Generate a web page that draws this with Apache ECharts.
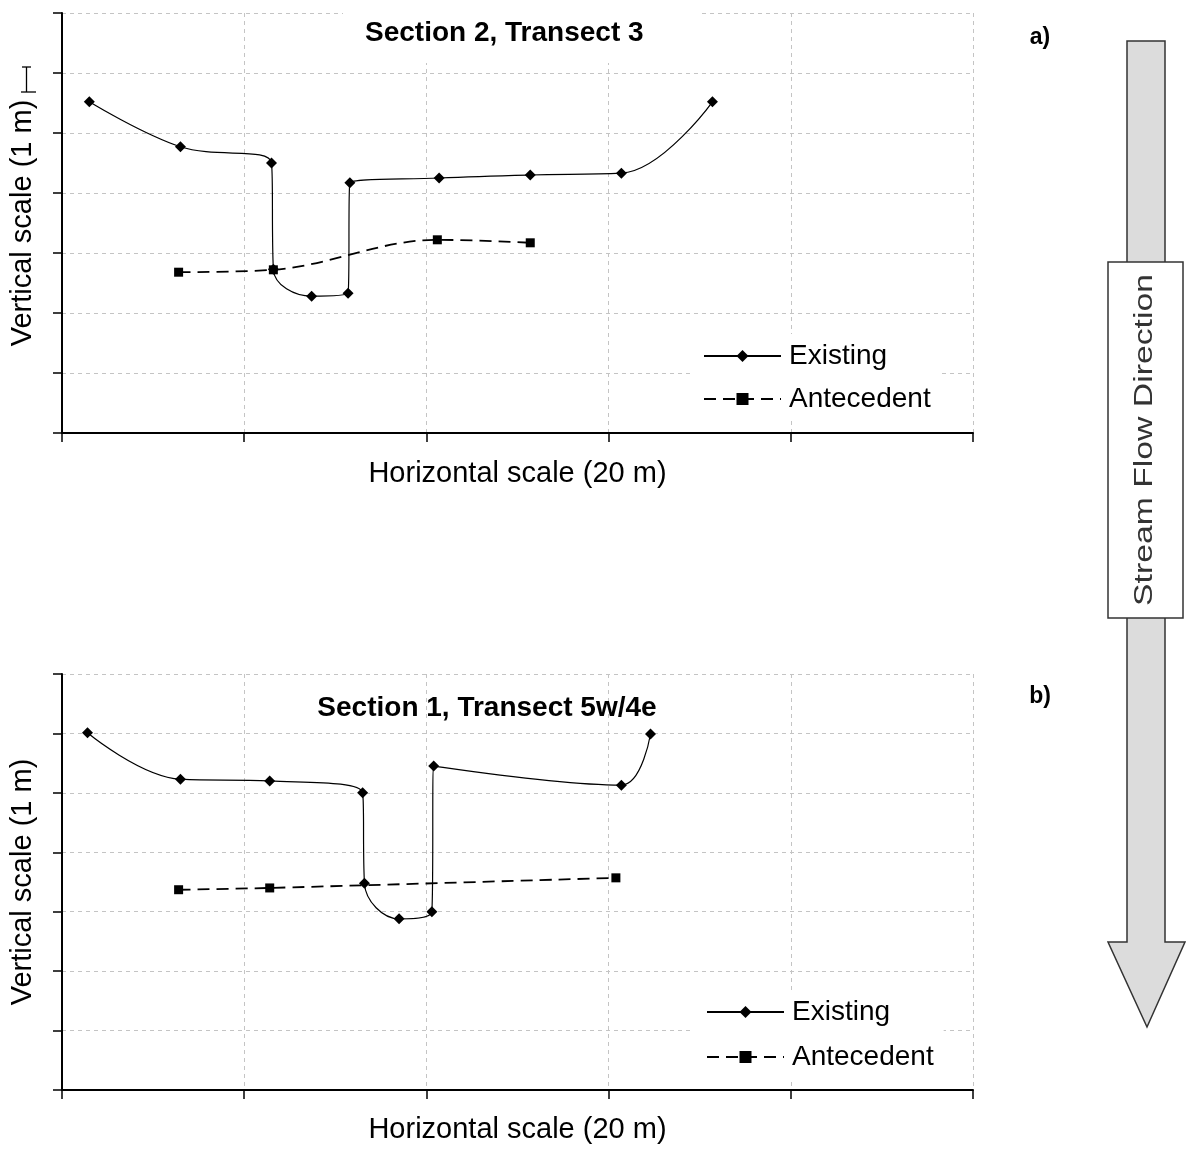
<!DOCTYPE html>
<html>
<head>
<meta charset="utf-8">
<script src="https://cdn.jsdelivr.net/npm/echarts@6/dist/echarts.min.js"></script>
<style>html,body{margin:0;padding:0;background:#fff;}#c{width:1193px;height:1149px;}</style>
</head>
<body>
<div id="c"></div>
<script>
// Panel a) Section 2, Transect 3
const aExistX = [0.15, 0.65, 1.15, 1.16, 1.37, 1.57, 1.58, 2.07, 2.57, 3.07, 3.57];
const aExistY = [5.52, 4.77, 4.50, 2.73, 2.28, 2.33, 4.17, 4.25, 4.30, 4.33, 5.52];
const aAnteX = [0.64, 1.16, 2.06, 2.57];
const aAnteY = [2.68, 2.72, 3.22, 3.17];
// Panel b) Section 1, Transect 5w/4e
const bExistX = [0.14, 0.65, 1.14, 1.65, 1.66, 1.85, 2.03, 2.04, 3.07, 3.23];
const bExistY = [6.01, 5.23, 5.20, 5.00, 3.48, 2.88, 3.00, 5.45, 5.13, 5.99];
const bAnteX = [0.64, 1.14, 3.04];
const bAnteY = [3.37, 3.40, 3.57];

const seriesNames = ['Existing', 'Antecedent'];
const titles = ['Section 2, Transect 3', 'Section 1, Transect 5w/4e'];
const panelLabels = ['a)', 'b)'];
const xName = 'Horizontal scale (20 m)';
const yName = 'Vertical scale (1 m)';
const arrowText = 'Stream Flow Direction';

const FONT = '"Liberation Sans", Arial, sans-serif';
const zip = (xs, ys) => xs.map((x, i) => [x, ys[i]]);

const chart = echarts.init(document.getElementById('c'), null, {renderer: 'canvas'});

function xAxisFor(gi, gap) {
  return {
    gridIndex: gi, type: 'value', min: 0, max: 5, interval: 1,
    name: xName, nameLocation: 'middle', nameGap: gap,
    nameTextStyle: {fontFamily: FONT, fontSize: 29, color: '#000'},
    axisLine: {show: true, onZero: false, lineStyle: {color: '#000', width: 2}},
    axisTick: {show: true, length: 9, lineStyle: {color: '#000', width: 1.5}},
    axisLabel: {show: false},
    splitLine: {show: true, showMinLine: true, showMaxLine: true, lineStyle: {color: '#c4c4c4', type: [4, 4], width: 1}}
  };
}
function yAxisFor(gi) {
  return {
    gridIndex: gi, type: 'value', min: 0, max: 7, interval: 1,
    name: yName, nameLocation: 'middle', nameGap: 25, nameRotate: 90,
    nameTextStyle: {fontFamily: FONT, fontSize: 29, color: '#000'},
    axisLine: {show: true, onZero: false, lineStyle: {color: '#000', width: 2}},
    axisTick: {show: true, length: 9, lineStyle: {color: '#000', width: 1.5}},
    axisLabel: {show: false},
    splitLine: {show: true, showMinLine: true, showMaxLine: true, lineStyle: {color: '#c4c4c4', type: [4, 4], width: 1}}
  };
}
function existSeries(idx, data) {
  return {
    name: seriesNames[0], type: 'line', xAxisIndex: idx, yAxisIndex: idx,
    data: data, smooth: 0.4, symbol: 'diamond', symbolSize: 11,
    itemStyle: {color: '#000'}, lineStyle: {color: '#000', width: 1.2, type: 'solid'},
    emphasis: {disabled: true}, animation: false, z: 3
  };
}
function anteSeries(idx, data) {
  return {
    name: seriesNames[1], type: 'line', xAxisIndex: idx, yAxisIndex: idx,
    data: data, smooth: 0.35, symbol: 'rect', symbolSize: 9,
    itemStyle: {color: '#000'}, lineStyle: {color: '#000', width: 1.8, type: [12, 7]},
    emphasis: {disabled: true}, animation: false, z: 3
  };
}
function legendFor(left, top, gap) {
  return {
    orient: 'vertical', left: left, top: top, itemGap: gap,
    itemWidth: 77, itemHeight: 15,
    padding: [8, 10, 8, 13], backgroundColor: '#fff',
    data: seriesNames, selectedMode: false,
    textStyle: {fontFamily: FONT, fontSize: 28, color: '#000', padding: [0, 0, 0, 3]}
  };
}

const option = {
  backgroundColor: '#fff',
  animation: false,
  title: [
    {text: titles[0], left: 343, top: 0, padding: [19, 55, 16, 22], backgroundColor: '#fff',
     textStyle: {fontFamily: FONT, fontSize: 28, fontWeight: 'bold', color: '#000'}},
    {text: titles[1], left: 487, textAlign: 'center', top: 694, padding: 0,
     textStyle: {fontFamily: FONT, fontSize: 28, fontWeight: 'bold', color: '#000'}}
  ],
  legend: [legendFor(690, 334, 15), legendFor(693, 990, 17)],
  grid: [
    {left: 61, top: 13, width: 912, height: 420, containLabel: false},
    {left: 61, top: 674, width: 912, height: 416, containLabel: false}
  ],
  xAxis: [xAxisFor(0, 26), xAxisFor(1, 25)],
  yAxis: [yAxisFor(0), yAxisFor(1)],
  series: [
    existSeries(0, zip(aExistX, aExistY)),
    anteSeries(0, zip(aAnteX, aAnteY)),
    existSeries(1, zip(bExistX, bExistY)),
    anteSeries(1, zip(bAnteX, bAnteY))
  ],
  graphic: [
    {type: 'polygon', shape: {points: [[1127, 41], [1165, 41], [1165, 942], [1185, 942], [1147, 1027], [1108, 942], [1127, 942]]},
     style: {fill: '#dcdcdc', stroke: '#333', lineWidth: 1.5}, z: 10},
    {type: 'rect', shape: {x: 1108, y: 262, width: 75, height: 356},
     style: {fill: '#fff', stroke: '#333', lineWidth: 1.5}, z: 11},
    {type: 'text', x: 1145, y: 440, rotation: Math.PI / 2, scaleX: 1.35, z: 12,
     style: {text: arrowText, fontFamily: FONT, fontSize: 25, fill: '#333', align: 'center', verticalAlign: 'middle'}},
    {type: 'text', x: 1040, y: 38, z: 12,
     style: {text: panelLabels[0], fontFamily: FONT, fontSize: 23, fontWeight: 'bold', fill: '#000', align: 'center', verticalAlign: 'middle'}},
    {type: 'text', x: 1040, y: 697, z: 12,
     style: {text: panelLabels[1], fontFamily: FONT, fontSize: 23, fontWeight: 'bold', fill: '#000', align: 'center', verticalAlign: 'middle'}},
    // scale bar next to vertical axis name of panel a
    {type: 'polyline', shape: {points: [[22, 67], [31, 67]]}, style: {stroke: '#000', lineWidth: 1.3}, z: 12},
    {type: 'polyline', shape: {points: [[26.5, 67], [26.5, 92]]}, style: {stroke: '#000', lineWidth: 1.3}, z: 12},
    {type: 'polyline', shape: {points: [[21, 92], [36, 92]]}, style: {stroke: '#000', lineWidth: 1.3}, z: 12}
  ]
};
chart.setOption(option);
</script>
</body>
</html>
